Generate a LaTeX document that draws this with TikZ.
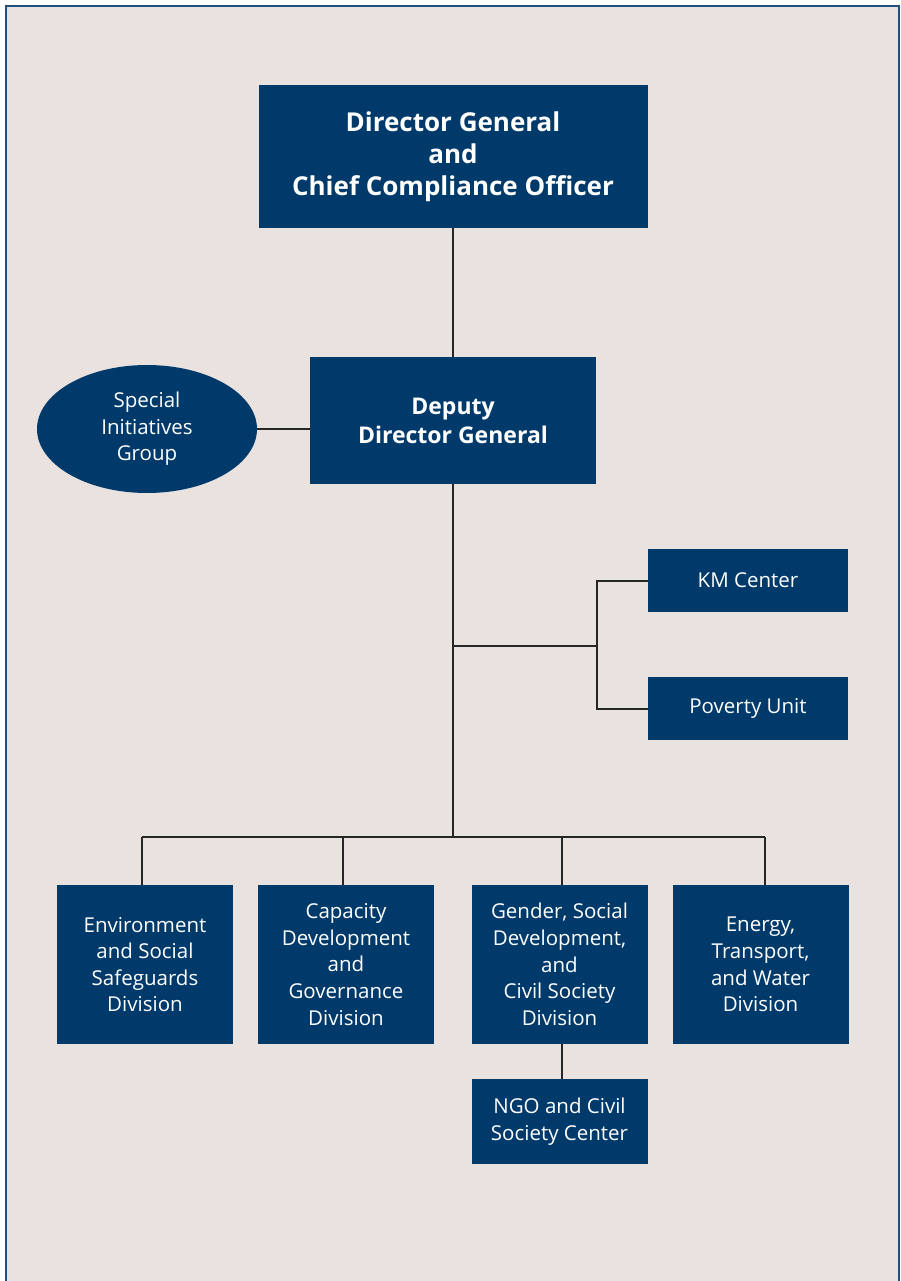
\documentclass[tikz,border=0pt]{standalone}
\usepackage{fontspec}
\setmainfont{Open Sans}
\usepackage{xcolor}
\usepackage{tikz}
\usetikzlibrary{shapes.geometric, positioning, calc}

\definecolor{orgblue}{HTML}{003A6B}
\definecolor{framecol}{HTML}{1F4E7F}
\definecolor{paper}{HTML}{EAE2DF}

\tikzset{
  unitbox/.style={rectangle, fill=orgblue, text=white, align=center, inner sep=0pt},
  divbox/.style={unitbox, minimum width=176pt, minimum height=159pt, font=\fontsize{20.5}{26.6}\selectfont},
  link/.style={draw=black!85, line width=1.2pt}
}

\begin{document}
\begin{tikzpicture}[x=1pt, y=-1pt]
    \useasboundingbox (0,0) rectangle (901,1281);
    \draw[fill=paper, draw=framecol, line width=2pt] (6,6) rectangle (899,1290);

    \node[unitbox, minimum width=389pt, minimum height=143pt, font=\fontsize{26}{32}\selectfont\bfseries] (dg) at (453,156.5) {Director General\\and\\Chief Compliance Officer};

    \node[unitbox, minimum width=286pt, minimum height=127pt, font=\fontsize{23}{29}\selectfont\bfseries] (ddg) at (453,420.5) {Deputy\\Director General};

    \node[ellipse, fill=orgblue, text=white, align=center, inner sep=0pt, minimum width=220pt, minimum height=128pt, font=\fontsize{20.5}{26.6}\selectfont] (sig) at (147,429) {Special\\Initiatives\\Group};

    \node[unitbox, minimum width=200pt, minimum height=63pt, font=\fontsize{20.5}{26.6}\selectfont] (km) at (748,580.5) {KM Center};
    \node[unitbox, minimum width=200pt, minimum height=63pt, font=\fontsize{20.5}{26.6}\selectfont] (pov) at (748,708.5) {Poverty Unit};

    \node[divbox] (env) at (145,964.5) {Environment\\and Social\\Safeguards\\Division};
    \node[divbox] (cap) at (346,964.5) {Capacity\\Development\\and\\Governance\\Division};
    \node[divbox] (gen) at (559.5,964.5) {Gender, Social\\Development,\\and\\Civil Society\\Division};
    \node[divbox] (etw) at (760.5,964.5) {Energy,\\Transport,\\and Water\\Division};

    \node[unitbox, minimum width=176pt, minimum height=85pt, font=\fontsize{20.5}{26.6}\selectfont] (ngo) at (559.5,1121.5) {NGO and Civil\\Society Center};

    \coordinate (fork) at (453,646);
    \coordinate (bus) at (453,837);

    \draw[link] (dg.south) -- (ddg.north);
    \draw[link] (sig.east) -- (sig.east -| ddg.west);
    \draw[link] (ddg.south) -- (bus);
    \draw[link] (fork) -- (597,646);
    \draw[link, line width=2pt] (km.west) -| (597,646) |- (pov.west);

    \draw[link] (142,837) -- (765,837);
    \draw[link] (142,837) -- (env.north -| 142,0);
    \draw[link] (343,837) -- (cap.north -| 343,0);
    \draw[link] (562,837) -- (gen.north -| 562,0);
    \draw[link] (765,837) -- (etw.north -| 765,0);
    \draw[link] (gen.south -| 562,0) -- (ngo.north -| 562,0);

\end{tikzpicture}
\end{document}
